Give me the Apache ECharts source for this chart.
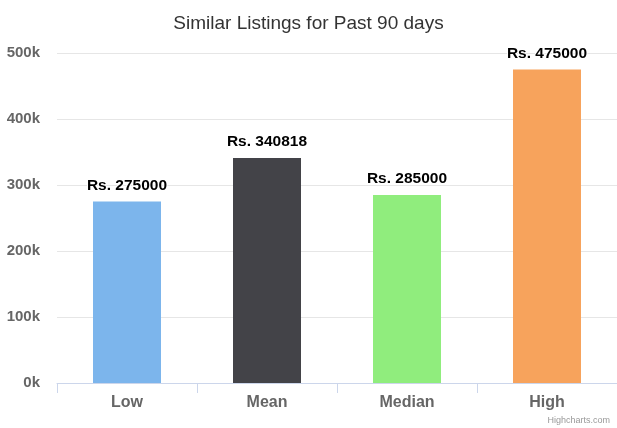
<!DOCTYPE html>
<html>
<head>
<meta charset="utf-8">
<script src="https://cdn.jsdelivr.net/npm/echarts@6/dist/echarts.min.js"></script>
<style>
  html, body { margin: 0; padding: 0; background: #fff; }
  #chart { width: 617px; height: 428px; }
</style>
</head>
<body>
<div id="chart"></div>
<script>
// data
const categories = ['Low', 'Mean', 'Median', 'High']
const values = [275000, 340818, 285000, 475000]
const barColors = ['#7cb5ec', '#434348', '#90ed7d', '#f7a35c']
const yTicks = [0, 100000, 200000, 300000, 400000, 500000]

const font = '"Liberation Sans", Arial, sans-serif'

const chart = echarts.init(document.getElementById('chart'))

const option = {
  backgroundColor: '#fff',
  animation: false,
  title: {
    text: 'Similar Listings for Past 90 days',
    left: 'center',
    top: 9,
    textStyle: {
      fontFamily: font,
      fontSize: 19,
      fontWeight: 'normal',
      color: '#333333'
    }
  },
  graphic: [
    {
      type: 'text',
      right: 7,
      bottom: 3,
      style: {
        text: 'Highcharts.com',
        fontFamily: font,
        fontSize: 9,
        fill: '#999999'
      }
    }
  ],
  grid: {
    left: 57,
    right: 0,
    top: 53,
    bottom: 45
  },
  xAxis: {
    type: 'category',
    data: categories,
    axisLine: { lineStyle: { color: '#ccd6eb', width: 1 } },
    axisTick: { show: true, length: 10, lineStyle: { color: '#ccd6eb' } },
    axisLabel: {
      fontFamily: font,
      fontSize: 16,
      fontWeight: 'bold',
      color: '#666666',
      margin: 12
    },
    splitLine: { show: false }
  },
  yAxis: {
    type: 'value',
    min: yTicks[0],
    max: yTicks[yTicks.length - 1],
    interval: 100000,
    axisLine: { show: false },
    axisTick: { show: false },
    axisLabel: {
      fontFamily: font,
      fontSize: 15,
      fontWeight: 'bold',
      color: '#666666',
      margin: 17,
      formatter: v => (v / 1000) + 'k'
    },
    splitLine: { lineStyle: { color: '#e6e6e6', width: 1 } }
  },
  series: [
    {
      type: 'bar',
      barWidth: 68,
      data: values.map((v, i) => ({ value: v, itemStyle: { color: barColors[i] } })),
      label: {
        show: true,
        position: 'top',
        distance: 8,
        fontFamily: font,
        fontSize: 15.5,
        fontWeight: 'bold',
        color: '#000000',
        textBorderColor: '#ffffff',
        textBorderWidth: 2,
        formatter: p => 'Rs. ' + p.value
      }
    }
  ]
}

chart.setOption(option)
</script>
</body>
</html>
